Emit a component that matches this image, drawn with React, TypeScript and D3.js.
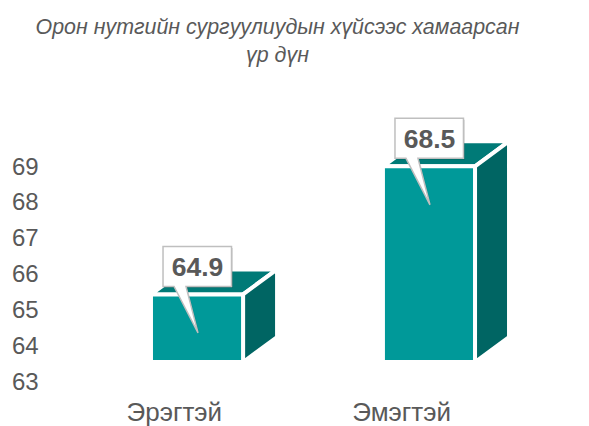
import React from 'react'
import * as d3 from 'd3'

const categories = ['Эрэгтэй', 'Эмэгтэй']
const values = [64.9, 68.5]
const yTicks = [63, 64, 65, 66, 67, 68, 69]
const titleLines = ['Орон нутгийн сургуулиудын хүйсээс хамаарсан', 'үр дүн']

const W = 589
const H = 426
const FONT = '"Liberation Sans", Arial, sans-serif'
const TEXT = '#595959'
const FRONT = '#009999'
const TOP = '#007a77'
const SIDE = '#006563'
const DX = 34
const DY = -25

const App = () => {
  // front faces of the boxes
  const x = d3.scaleBand<string>().domain(categories).range([35, 591]).paddingInner(0.603).paddingOuter(0.5)
  const y = d3.scaleLinear().domain([63, 69]).range([362, 148.5])
  // tick labels sit on the back wall, category labels on the floor edge
  const yWall = d3.scaleLinear().domain([63, 69]).range([389.6, 174.6])
  const xFloor = d3.scalePoint<string>().domain(categories).range([174.3, 401.7])

  const bars = categories.map((c, i) => {
    const fl = x(c) as number
    const fr = fl + x.bandwidth()
    const top = y(values[i])
    const bot = y(63)
    const front = [[fl, top], [fr, top], [fr, bot], [fl, bot]]
    const topFace = [[fl, top], [fr, top], [fr + DX, top + DY], [fl + DX, top + DY]]
    const side = [[fr, top], [fr + DX, top + DY], [fr + DX, bot + DY], [fr, bot]]
    return { c, v: values[i], fl, fr, top, front, topFace, side }
  })
  const pts = (p: number[][]) => p.map(d => d.join(',')).join(' ')

  return (
    <div style={{ position: 'absolute', left: 0, top: 0 }}>
      <svg width={W} height={H} style={{ display: 'block', background: '#fff' }}>
        {titleLines.map((t, i) => (
          <text key={i} x={277.5} y={34 + i * 28} textAnchor='middle' fontFamily={FONT}
            fontStyle='italic' fontSize={21.4} fill={TEXT}>{t}</text>
        ))}

        {yTicks.map(t => (
          <text key={t} x={12} y={yWall(t)} fontFamily={FONT} fontSize={24} fill={TEXT}>{t}</text>
        ))}

        {categories.map(c => (
          <text key={c} x={xFloor(c)} y={421} textAnchor='middle' fontFamily={FONT}
            fontSize={26} fill={TEXT}>{c}</text>
        ))}

        {bars.map(b => (
          <g key={b.c} stroke='#fff' strokeWidth={4} strokeLinejoin='miter'>
            <polygon points={pts(b.topFace)} fill={TOP} />
            <polygon points={pts(b.side)} fill={SIDE} />
            <polygon points={pts(b.front)} fill={FRONT} />
          </g>
        ))}

        {bars.map(b => {
          const cx = (b.fl + b.fr) / 2
          const tv = b.top + 2
          const x0 = cx - 34
          const x1 = cx + 34.5
          const y0 = tv - 50
          const y1 = tv - 10
          const d = `M${x0},${y0}H${x1}V${y1}H${cx - 11}L${cx + 1},${tv + 36.5}L${cx - 23},${y1}H${x0}Z`
          return (
            <g key={b.c + 'lbl'}>
              <path d={d} transform='translate(1.5,1.5)' fill='rgba(0,0,0,0.12)' />
              <path d={d} fill='#fff' stroke='#bfbfbf' strokeWidth={1.5} />
              <text x={cx + 0.5} y={y1 - 10} textAnchor='middle' fontFamily={FONT}
                fontWeight='bold' fontSize={26.5} fill={TEXT}>{b.v}</text>
            </g>
          )
        })}
      </svg>
    </div>
  )
}

export default App
